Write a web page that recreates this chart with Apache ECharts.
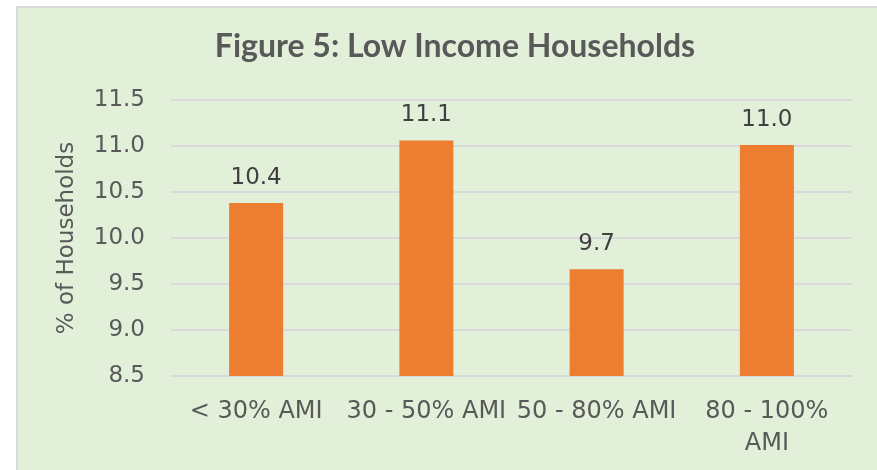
<!DOCTYPE html>
<html>
<head>
<meta charset="utf-8">
<script src="https://cdn.jsdelivr.net/npm/echarts@6/dist/echarts.min.js"></script>
<style>
  html, body { margin: 0; padding: 0; background: #fff; overflow: hidden; }
  #chart {
    position: absolute; left: 16px; top: 6px;
    width: 900px; height: 480px;
    border-left: 2px solid #d9d9d9; border-top: 2px solid #d9d9d9;
    background: #e2efd9;
  }
</style>
</head>
<body>
<div id="chart"></div>
<script>
// data
var categories = ['< 30% AMI', '30 - 50% AMI', '50 - 80% AMI', '80 - 100%\nAMI'];
var shares = [10.38, 11.06, 9.66, 11.01];
var yTicks = { min: 8.5, max: 11.5, step: 0.5 };

var textColor = '#595959';
var barColor = '#ed7d31';

var myChart = echarts.init(document.getElementById('chart'));

myChart.setOption({
    backgroundColor: 'transparent',
    animation: false,
    title: {
        text: 'Figure 5: Low Income Households',
        left: 432,
        top: 18,
        textAlign: 'center',
        textStyle: {
            fontFamily: 'Lato',
            fontWeight: 'bold',
            fontSize: 32,
            color: textColor
        }
    },
    grid: {
        left: 153,
        top: 92,
        width: 681,
        height: 276
    },
    xAxis: {
        type: 'category',
        data: categories,
        axisTick: { show: false },
        axisLine: { lineStyle: { color: '#d9d9d9', width: 2 } },
        axisLabel: {
            interval: 0,
            margin: 20,
            fontFamily: 'DejaVu Sans',
            fontSize: 24,
            lineHeight: 32,
            color: textColor
        }
    },
    yAxis: {
        type: 'value',
        min: yTicks.min,
        max: yTicks.max,
        interval: yTicks.step,
        name: '% of Households',
        nameLocation: 'middle',
        nameGap: 92,
        nameTextStyle: {
            fontFamily: 'DejaVu Sans',
            fontSize: 23,
            color: textColor
        },
        axisLine: { show: false },
        axisTick: { show: false },
        axisLabel: {
            margin: 26,
            fontFamily: 'DejaVu Sans',
            fontSize: 23,
            color: textColor,
            formatter: function (v) { return v.toFixed(1); }
        },
        splitLine: { lineStyle: { color: '#d9d9d9', width: 2 } }
    },
    series: [
        {
            type: 'bar',
            data: shares,
            barWidth: 54,
            itemStyle: { color: barColor },
            label: {
                show: true,
                position: 'top',
                distance: 14,
                fontFamily: 'DejaVu Sans',
                fontSize: 23,
                color: '#404040',
                formatter: function (p) { return p.value.toFixed(1); }
            }
        }
    ]
});
</script>
</body>
</html>
